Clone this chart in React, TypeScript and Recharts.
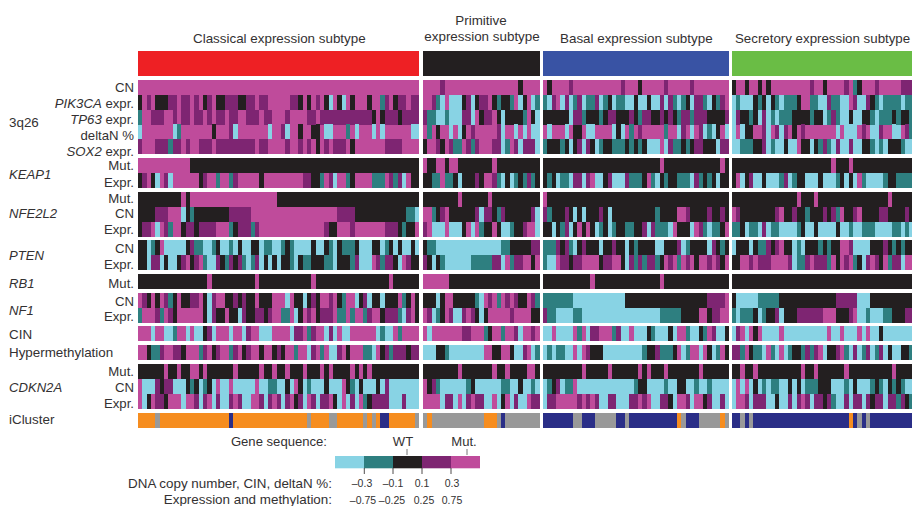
import React from "react";
import { ScatterChart, Scatter, XAxis, YAxis, ReferenceArea, ReferenceLine } from "recharts";

// one sample = one x unit, rows are read as run lengths: letter = colour bin, number = samples
const COLORS: Record<string, string> = {
  c: "#88d3e4",
  t: "#2e7f80",
  k: "#231f20",
  p: "#7e2572",
  m: "#bf4b9b",
  o: "#f68d1f",
  g: "#999999",
  n: "#2a2e87",
};

// row order in each group: 3q26 x5, KEAP1 x2, NFE2L2 x3, PTEN x2, RB1, NF1 x2, CIN, Hypermethylation, CDKN2A x3, iCluster
const classical = [
  "m65",
  "k1m1p1m1k3p2m1p2m1p1m1k1p1m1k2p3k2p2m1p2m5p2k1m1k1m1p1m1k1c1m1k1c1m1k1m3k1m2t1p1m1k1p2m1p2",
  "t1m2p3m2p1m1p2m1p2m1p1m1p2m1p2m2p3m1p2m3p1m4p2m1p12k1m1k1p3k1p4",
  "c1m7c1t1m7k1m3p1c1m7c1m2p1c1m2k1m2k2m1c2m3t1m1c1m3c1m1c1m6c2",
  "p1m3p3t1p2m1p1m2p3m1p9m1p2m4p1m2p1m1p1m1k1m1p1m1p3m1k1m7p4m4",
  "m12k53",
  "k1p1m1k1c1m1p1c1m6k1p1m2t1m2t1p1m5k1m9p2k2t1m1p1c1m2t1k1m4t3m1p1t1p1c1m1k2",
  "k10m1k1m20k33",
  "k4p3m3c1k1t1k8p5m20p4k12t2c1",
  "k1p2m1c1m1p1t1m2k1p2k1p4m3t1k1p3t1p1m15p1k2m3p1m7p3k1t1k2m1",
  "k2c1t1k1m1c5k1p1t2c2t1k1c2t1c1k1c2k2c1t2c2t1k1t1c4k1c2k1t1c1k1t3k1c3k2c1t1k1c1k1c2k1c1",
  "k2c1p2c1k1c2k1p1m1k1p1m1t1c2p1k1t1p1k1p1t1c1t1p1c1k1c1k1c1k2t1c1k1t2k3t2c1k3t1p1c3m1p1t1p2k1c1m1p1k2",
  "k16m1k10m1k12m1k17m1k6",
  "m1p1k1m1k1m1p1t1k1m1k2p2m1k1c1p1m2k2p1k1p1k2m1k3m3c1m1k2c1k1p1k1m2p1m1k1t1m2c1k1p1c1k2c1k3m1t1k1m1k1",
  "t1m3p1t1m1p1k1m6k1c1p1k2m1k2c1p1k2p2k1p1m2t2m1c1k1m1p1m1k1p3m1t2m1t1m2t1p1m2k1p3t1c1p1m1k1",
  "m3c1m2c2t1m2c1m1c2k1p1c1m3c1m2c1p1m2c3m4c1p2m1t1p1m2c1p1c1m1c2m6c1t1c2m1t1m4",
  "m2k1t2p1m2p2k1m3t1p1m1k1p1m2t1p1m1k1p1m2k1m2k1p1k1m2t1m2c1p1m1t1m1c2p1m1k1m3t2c1m1k1p1t1p3k1p2",
  "k6m1k2m1k2m2k1m1k6m1k5m1k2m1k2m1k3m1k3m1k1m1k4m1k1m1k1m1k11",
  "m1c3p1k1p2c3k1t1k1c1t1k1c1m1c2m1c5m1c2t2c2k1c1m1k1c1t1c3k1c3m1k1t1c1k1c3k1c1p1c7",
  "m1c1k1m1p2k1m3c1m2p1c1p1m1c1p1c2p1m1p1c2m2p1c1p1m1p1c1p1m1k1p1c1m1p1c1p2m1k1c1m1c1p1c1m1t1k1p4c3p1c3",
  "o4g1o16n1o17g1o4g2o6g1o1g1o1n2o6g1",
];

const primitive = [
  "m4p1m17k1m4",
  "m2p1t1c1m1c3k1p1c1k1p2m1k1t1k2t1m1c1k1m1c1t1",
  "p1t2c2t1c3p2c1m1k1p2m1k1c1k4t1m1k1c1",
  "m1t1m1k1m2c1m1c1k1m1p1m5p1c1m2c1m1c1m1c2",
  "k1m2p1k1m1p1t2m1p1t1p1m3p2c1t1m1p1c1p3c1",
  "m1k2m2k1m2k8m1k10",
  "k2t2m1t2k1c1k3p1k1m2p1t1c1k1c1t1k1t1p1t1k1",
  "k8m1k6m1k11",
  "m2t1k1p1m1k6p1c1p2k1t1p1k6p1c1",
  "p1m1c3m1c3k1m1c1m1t1k2m1k1c2t1k2p1m2c1",
  "k1t2c15t2k5p2",
  "p1k1c1k1t1c6t5p2c1m1t1p2m2k1m1",
  "m6k21",
  "k3c1k1m2k5t1c1m1p1m1t1m1p1m1p1k2m1p1t1",
  "m1p1c1t1k1m1p1c2p1m1p1k1c1k1m5p1m4k2",
  "m1c1m7p2m3t1k1m2t1m2p1c1m2p1m1",
  "c3k2t1c8m2k2m2k1c2p1m1c1t1",
  "k8m1k7m1k2m1k4m2k1",
  "m1k1p1t1c6t1k1c6t2c2k1c2t1c1",
  "m4c1p2c1m1c1p1m1p2c2m1c1k1m1c1p1c2m1p2",
  "g1o1g12o3g1n1g8",
];

const basal = [
  "m1k1m4p1m11p1m3k1m5p1m5p1m8",
  "t1c1p1m1c1p1c1t1p1c1t2p1c1t1k1c1t2c2k1c2k1c2p1c1p1t1c1t1k1c1p2t1c1k1t1p1m1",
  "k6c1p2t1k3t1k1p2k3p1k1t1p2k2p1k1p1k1t1p2t1p3k4p1",
  "m1c1m3c1m1k2m1c2m4c1k1c1m1t1m1p1m5t1m2c1p1m1c1m1p1c1t1c1k1m1c1",
  "t1k3t1k1c1k1p1c1p1k1c1t1k2t3k1t1k1t1k1c3m1c1p1t2k1t1k1p2k3c1p2",
  "k27m1k13m1k1",
  "k1t1k1c1t2c1p2c1p1m1c2k1p1c3p1t3k1m1t1c1k1t1k2t3c1p1t1k1t1k1c1k2",
  "m1k42",
  "p1t1k3p1k1c1k1c1k3p1k1c1k10t1k4m2p1k4p1k2p1k1",
  "k2c1k1t1p1c1k1m1k1m1k1c1t1k1c1t1k2t2k2p1c1p1t3c1m1k3c1m1p1t1c1t2k1m1",
  "t3p1k1p1t1c1k1p1k3c1k2p1k2c1k1t1k4c2k3p1c1t1k4c1p1k1t1k1",
  "t1c2m1p2k1p2m4k1p2m2k1c1p1t1p1t1p2t1k1m1p1m1t1m1p1m1k1m2p1m1p1k1m1",
  "k11m1k15m1k15",
  "t7c12k19p4m1",
  "p1t2c4t2c18t5k4m2k1p2m2",
  "c2m1c4m1t1m1c1p2m3t1p1c2m1c3k1t1c3k1c1m2t1c2k1t1m1p1c2k1",
  "c1t1c1t2c2m1c1m1p1k3c9t1k2p1t3k1m1c1t1m2c1m1k1c1t1m1k1",
  "k9m1k5m1k6m1k1m1k3m1k7m1k6",
  "c1t1k1p1c1t2m1c13t1k2c4t1c2k2c2t1c2t1c4",
  "c1p2m5p1m1p1m1p1c2p2c3p2m1p1m1c2p2k1c1m2p1c1m2k1p1c2p1c1",
  "n7g2n3g5n2g1n11o1g1n3g5o1g1",
];

const secretory = [
  "k1m2k1m2k1m1k1m9p1m2k1m4p1m1t1k1m3p1m5p3",
  "c1t1c3k1t1k1c1k1t1c1t3k1m2t2c2p1t2c2m1p1c2p1k1t1c1t1t3c1t2",
  "c1p1k2t1k1c1p1c1t1c1t3k4t1k2c1t1p1t1c2k1c2k2t1c1t3k1t1k2t1",
  "c1m1c1k2m2p1c1m1p1c1p1m1k1m1p1m7c1m1c3m1p1m1c2p1m2c2m1p1t1",
  "c2t3k2p1c1t1c2k1c2m1k2c1k1t1p1t1c1p1c2p1c2k2t1c1t1c1k3t1c2",
  "k23m1k3m1k14",
  "k1m1c1k1p1c2k1c3t1p1c1t1k2c3k1c3t1k1c1k1c1m1t1c4t1k2t4",
  "k15m1k3m1k16m1k5",
  "m1p1k8p1m1k2p1k2t1k3p1k1p1t1m1k2p1m1k4p2k4p1k1",
  "t2k1c1t2c1p1c1t2c4t1k1c2k1c4k1c2t1c2t3c4t2c1t1c1",
  "c1k3c1k1t2p1k1p1m1k2c1t1c1k3t1k1t1k2m2p1c4k3p1k1t1k1t1k2",
  "k2m2p1m1p3m4p1c1t2p1m1p3t1m1k1m1p1m1t1k1c1p1m1p1k1m1t1p2c1m2",
  "k42",
  "k1c5t5k13p5c3k10",
  "t1c1t3k1c1t1k2p1c1k3p6m3k3p1m1c2t1c3t2k3p2",
  "c1p1m1c1m1k1m1c4m1c10m1c2m1c3m1c1m1c2k1c7",
  "p2t1m1k1t2c1m1t1c1m1c1t1k2t1p1t1p1m1c1k2p1m1t1c1p1c1t1p1c1t1p1c1k1c2k2t1",
  "k2m1k2m1k10m1k2m1k6m1k10m1k4",
  "c1m1c1m1c1k1c1t1c1t2c2k1c1k1c1t3k3c3t1c1k1c3t1k1t1c1k1t1k1t1c2",
  "c1m2p1c1p3c2k1c2p1c1p1m1p1c1p2k1p1t1c2p1c1p2c1p1k1p2c1p2t1p1k1t1",
  "n2g1n1g1n22o1n1g1n1g1n10",
];

const groups = [
  { rows: classical, start: 0 },
  { rows: primitive, start: 65.8 },
  { rows: basal, start: 93.5 },
  { rows: secretory, start: 137.1 },
];

const headerBands = [
  { from: 138, to: 419, fill: "#ee2024" },
  { from: 423, to: 540, fill: "#231f20" },
  { from: 543, to: 729, fill: "#3953a4" },
  { from: 732, to: 912, fill: "#6abd45" },
];

const rowTops = [80, 94.8, 109.6, 124.4, 139.2, 158, 173, 192, 206.8, 221.6, 240, 255, 274, 293, 308, 326, 345, 364, 379, 394, 413];

const legendBins = ["c", "t", "k", "p", "m"];
const legendTicks = [364.3, 393, 422, 451];

const W = 912;
const H = 506;
const SAMPLE_PX = 4.33;
const toX = (px: number) => (px - 138) / SAMPLE_PX;

const expand = (runs: string) => {
  const out: string[] = [];
  for (const m of runs.matchAll(/([a-z])(\d+)/g)) {
    for (let i = 0; i < Number(m[2]); i++) out.push(m[1]);
  }
  return out;
};

const cells: Record<string, { x: number; y: number }[]> = {};
groups.forEach(g => {
  g.rows.forEach((runs, r) => {
    expand(runs).forEach((bin, i) => {
      (cells[bin] = cells[bin] || []).push({ x: g.start + i + 0.5, y: rowTops[r] + 7.5 });
    });
  });
});

const CellShape = (props: any) => (
  <rect
    x={props.cx - SAMPLE_PX / 2}
    y={props.cy - 7.5}
    width={SAMPLE_PX}
    height={15}
    fill={props.fill}
    shapeRendering="crispEdges"
  />
);

const Txt = ({ x, y, anchor = "left", size = 13.4, children }: any) => (
  <div
    style={{
      position: "absolute",
      top: y + 0.8,
      left: anchor === "left" ? x : undefined,
      right: anchor === "right" ? W - x : undefined,
      transform: anchor === "center" ? `translate(${x}px, -50%)` : "translateY(-50%)",
      width: anchor === "center" ? 0 : undefined,
      display: anchor === "center" ? "flex" : undefined,
      justifyContent: "center",
      fontSize: size,
      lineHeight: 1,
      whiteSpace: "nowrap",
      color: "#333132",
    }}
  >
    {children}
  </div>
);

export default function App() {
  return (
    <div style={{ position: "absolute", left: 0, top: 0, width: W, height: H, overflow: "hidden", background: "#fff", fontFamily: "'Liberation Sans', Arial, sans-serif" }}>
      <ScatterChart width={W} height={H} margin={{ top: 0, right: 0, bottom: 0, left: 0 }}>
        <XAxis type="number" dataKey="x" hide domain={[toX(0), toX(W)]} allowDataOverflow />
        <YAxis type="number" dataKey="y" hide domain={[0, H]} reversed />
        {headerBands.map(b => (
          <ReferenceArea key={b.fill} x1={toX(b.from)} x2={toX(b.to)} y1={51} y2={76} fill={b.fill} fillOpacity={1} stroke="none" />
        ))}
        {Object.keys(cells).map(bin => (
          <Scatter key={bin} data={cells[bin]} fill={COLORS[bin]} shape={CellShape} isAnimationActive={false} />
        ))}
        {legendBins.map((bin, i) => (
          <ReferenceArea key={bin} x1={toX(335 + i * 29)} x2={toX(335 + (i + 1) * 29)} y1={456} y2={468.3} fill={COLORS[bin]} fillOpacity={1} stroke="none" />
        ))}
        {legendTicks.map(t => (
          <ReferenceLine key={t} segment={[{ x: toX(t), y: 468 }, { x: toX(t), y: 474 }]} stroke="#231f20" strokeWidth={0.8} />
        ))}
        <ReferenceLine segment={[{ x: toX(407), y: 449 }, { x: toX(407), y: 455 }]} stroke="#555" strokeWidth={0.8} />
        <ReferenceLine segment={[{ x: toX(467), y: 449 }, { x: toX(467), y: 455 }]} stroke="#555" strokeWidth={0.8} />
      </ScatterChart>

      <Txt x={193} y={38}>Classical expression subtype</Txt>
      <Txt x={481} y={20} anchor="center">Primitive</Txt>
      <Txt x={482} y={36} anchor="center">expression subtype</Txt>
      <Txt x={560} y={38}>Basal expression subtype</Txt>
      <Txt x={735} y={38} size={13.3}>Secretory expression subtype</Txt>

      <Txt x={134} y={87} anchor="right" size={13.2}>CN</Txt>
      <Txt x={134} y={103} anchor="right" size={13.2}><i>PIK3CA</i> expr.</Txt>
      <Txt x={134} y={119} anchor="right" size={13.2}><i>TP63</i> expr.</Txt>
      <Txt x={134} y={135} anchor="right" size={13.2}>deltaN %</Txt>
      <Txt x={134} y={151} anchor="right" size={13.2}><i>SOX2</i> expr.</Txt>
      <Txt x={134} y={165} anchor="right" size={13.2}>Mut.</Txt>
      <Txt x={134} y={182} anchor="right" size={13.2}>Expr.</Txt>
      <Txt x={134} y={198} anchor="right" size={13.2}>Mut.</Txt>
      <Txt x={134} y={213} anchor="right" size={13.2}>CN</Txt>
      <Txt x={134} y={229} anchor="right" size={13.2}>Expr.</Txt>
      <Txt x={134} y={248} anchor="right" size={13.2}>CN</Txt>
      <Txt x={134} y={264} anchor="right" size={13.2}>Expr.</Txt>
      <Txt x={134} y={283} anchor="right" size={13.2}>Mut.</Txt>
      <Txt x={134} y={301} anchor="right" size={13.2}>CN</Txt>
      <Txt x={134} y={316} anchor="right" size={13.2}>Expr.</Txt>
      <Txt x={134} y={371} anchor="right" size={13.2}>Mut.</Txt>
      <Txt x={134} y={387} anchor="right" size={13.2}>CN</Txt>
      <Txt x={134} y={403} anchor="right" size={13.2}>Expr.</Txt>

      <Txt x={9} y={122}>3q26</Txt>
      <Txt x={9} y={174} size={13.1}><i>KEAP1</i></Txt>
      <Txt x={9} y={213} size={13.1}><i>NFE2L2</i></Txt>
      <Txt x={9} y={255} size={13.1}><i>PTEN</i></Txt>
      <Txt x={9} y={283} size={13.1}><i>RB1</i></Txt>
      <Txt x={9} y={310} size={13.1}><i>NF1</i></Txt>
      <Txt x={9} y={334}>CIN</Txt>
      <Txt x={9} y={352}>Hypermethylation</Txt>
      <Txt x={9} y={387} size={13.1}><i>CDKN2A</i></Txt>
      <Txt x={9} y={419}>iCluster</Txt>

      <Txt x={327} y={441} anchor="right" size={13.1}>Gene sequence:</Txt>
      <Txt x={403} y={441} anchor="center" size={13.1}>WT</Txt>
      <Txt x={464} y={441} anchor="center" size={13.1}>Mut.</Txt>
      <Txt x={332} y={483} anchor="right">DNA copy number, CIN, deltaN %:</Txt>
      <Txt x={332} y={499} anchor="right">Expression and methylation:</Txt>
      <Txt x={362} y={482} anchor="center" size={10.5}>–0.3</Txt>
      <Txt x={393} y={482} anchor="center" size={10.5}>–0.1</Txt>
      <Txt x={422} y={482} anchor="center" size={10.5}>0.1</Txt>
      <Txt x={452} y={482} anchor="center" size={10.5}>0.3</Txt>
      <Txt x={363} y={499} anchor="center" size={10.5}>–0.75</Txt>
      <Txt x={392} y={499} anchor="center" size={10.5}>–0.25</Txt>
      <Txt x={424} y={499} anchor="center" size={10.5}>0.25</Txt>
      <Txt x={452} y={499} anchor="center" size={10.5}>0.75</Txt>
    </div>
  );
}
